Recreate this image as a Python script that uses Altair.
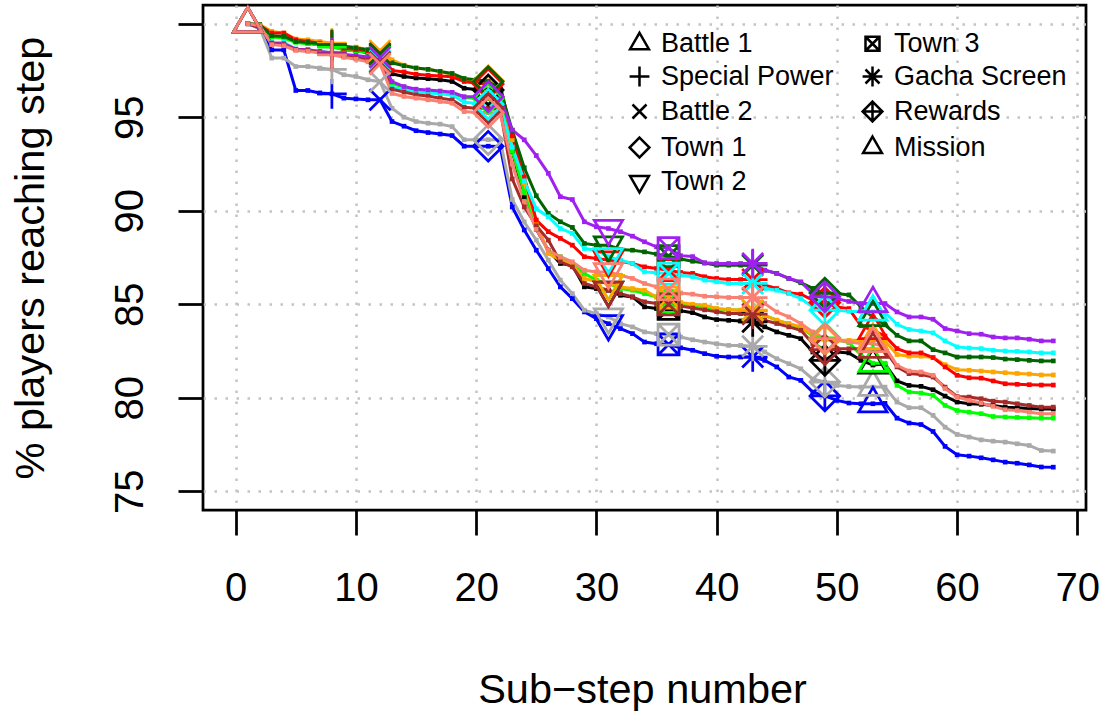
import altair as alt
import pandas as pd

steps = list(range(1, 69))

series_names = ["blue", "gray", "black", "green", "orange", "red",
                "darkgreen", "cyan", "purple", "brown", "salmon"]
series_colors = ["#0000FF", "#A9A9A9", "#000000", "#00FF00", "#FFA500", "#FF0000",
                 "#006400", "#00FFFF", "#A020F0", "#A52A2A", "#FA8072"]

blue = [100.0, 99.75, 98.6, 98.6, 96.43, 96.43, 96.3, 96.25, 96.02, 95.98,
        95.93, 95.93, 94.77, 94.52, 94.28, 94.18, 94.1, 94.02, 93.45, 93.45,
        93.45, 93.43, 90.2, 88.97, 87.89, 86.91, 85.93, 85.3, 84.59, 84.23,
        83.96, 83.7, 83.43, 82.98, 82.89, 82.85, 82.67, 82.54, 82.36, 82.22,
        82.18, 82.18, 82.18, 82.0, 81.65, 81.11, 80.93, 80.3, 80.1, 79.86,
        79.72, 79.68, 79.68, 79.7, 78.91, 78.65, 78.57, 78.2, 77.4, 76.95,
        76.88, 76.79, 76.68, 76.56, 76.5, 76.41, 76.3, 76.29]
gray = [100.0, 99.77, 98.16, 98.16, 97.71, 97.71, 97.63, 97.56, 97.27, 97.18,
        97.0, 96.9, 95.48, 95.0, 94.77, 94.68, 94.63, 94.5, 93.8, 93.8,
        93.8, 93.79, 90.6, 89.4, 88.43, 87.36, 86.29, 85.57, 84.68, 84.5,
        84.32, 83.96, 83.79, 83.52, 83.43, 83.38, 83.25, 83.1, 82.98, 82.89,
        82.8, 82.8, 82.75, 82.45, 82.09, 81.82, 81.55, 81.0, 80.84, 80.66,
        80.6, 80.57, 80.57, 80.57, 79.77, 79.47, 79.47, 79.06, 78.43, 78.04,
        77.9, 77.75, 77.68, 77.63, 77.54, 77.45, 77.18, 77.15]
black = [100.0, 99.86, 99.32, 99.32, 99.05, 98.96, 98.88, 98.79, 98.62, 98.56,
         98.45, 98.3, 97.32, 97.18, 97.1, 97.06, 97.0, 96.91, 96.55, 96.48,
         96.46, 96.4, 93.2, 90.7, 89.0, 87.89, 87.18, 87.09, 85.93, 85.84,
         85.75, 85.48, 85.39, 84.86, 84.77, 84.75, 84.65, 84.55, 84.32, 84.18,
         84.14, 84.11, 84.06, 83.79, 83.52, 83.34, 83.16, 82.45, 82.0, 82.45,
         82.4, 82.0, 81.75, 81.8, 80.9, 80.66, 80.61, 80.43, 80.09, 79.77,
         79.68, 79.65, 79.59, 79.5, 79.47, 79.43, 79.4, 79.4]
green = [100.0, 99.86, 99.29, 99.23, 99.0, 98.93, 98.88, 98.75, 98.6, 98.54,
         98.47, 98.25, 96.8, 96.6, 96.46, 96.4, 96.3, 96.28, 96.05, 96.0,
         96.0, 95.9, 93.2, 91.0, 89.2, 87.8, 87.54, 87.09, 86.64, 86.29,
         86.11, 85.84, 85.75, 85.57, 85.39, 85.13, 85.0, 84.95, 84.85, 84.75,
         84.7, 84.68, 84.66, 84.4, 84.15, 83.95, 83.75, 83.3, 83.2, 83.1,
         82.95, 82.3, 81.85, 81.85, 80.66, 80.31, 80.25, 80.13, 79.59, 79.32,
         79.23, 79.15, 79.0, 78.97, 78.95, 78.93, 78.91, 78.91]
orange = [100.0, 99.95, 99.59, 99.5, 99.18, 99.14, 99.05, 98.96, 98.8, 98.75,
          98.61, 98.55, 98.07, 97.78, 97.63, 97.56, 97.45, 97.27, 97.0, 96.98,
          96.95, 96.7, 93.8, 91.5, 89.4, 87.71, 87.36, 87.09, 86.38, 86.2,
          86.11, 85.93, 85.84, 85.75, 85.39, 85.35, 85.1, 85.0, 84.95, 84.77,
          84.72, 84.68, 84.68, 84.41, 84.14, 83.97, 83.79, 83.34, 83.1, 83.07,
          83.07, 83.07, 83.07, 83.05, 82.31, 82.22, 82.22, 82.15, 81.77, 81.5,
          81.47, 81.43, 81.38, 81.34, 81.3, 81.27, 81.22, 81.22]
red = [100.0, 99.9, 99.5, 99.5, 99.14, 99.05, 98.96, 98.88, 98.68, 98.62,
       98.55, 98.4, 97.5, 97.42, 97.3, 97.24, 97.2, 97.16, 96.91, 96.82,
       96.78, 96.7, 94.0, 91.8, 89.5, 88.88, 88.52, 88.16, 87.54, 87.45,
       87.36, 87.3, 87.18, 87.0, 86.91, 86.82, 86.7, 86.65, 86.47, 86.38,
       86.32, 86.32, 86.32, 86.02, 85.84, 85.61, 85.54, 85.22, 85.1, 84.85,
       84.77, 83.85, 83.6, 83.3, 82.63, 82.4, 82.4, 82.15, 81.65, 81.2,
       81.07, 81.05, 80.9, 80.75, 80.72, 80.7, 80.68, 80.68]
darkgreen = [100.0, 99.95, 99.36, 99.32, 99.05, 99.0, 98.93, 98.88, 98.79, 98.7,
             98.61, 98.4, 97.91, 97.75, 97.63, 97.56, 97.45, 97.34, 97.07, 97.0,
             96.91, 96.5, 94.3, 92.3, 90.8, 89.86, 89.41, 89.11, 88.25, 88.16,
             88.16, 87.93, 87.89, 87.8, 87.68, 87.57, 87.42, 87.3, 87.2, 87.09,
             87.09, 87.09, 87.09, 86.82, 86.65, 86.38, 86.15, 85.85, 85.6, 85.57,
             85.5, 84.86, 84.3, 83.9, 83.34, 83.04, 83.04, 82.57, 82.4, 82.18,
             82.18, 82.18, 82.15, 82.07, 82.04, 82.0, 81.97, 81.97]
cyan = [100.0, 99.8, 99.0, 99.0, 98.64, 98.61, 98.52, 98.43, 98.25, 98.16,
        98.09, 98.02, 96.6, 96.46, 96.36, 96.3, 96.25, 96.18, 95.8, 95.75,
        95.7, 95.55, 93.4, 91.6, 90.1, 89.68, 89.05, 88.79, 87.98, 87.89,
        87.54, 87.36, 87.18, 86.73, 86.68, 86.64, 86.55, 86.47, 86.29, 86.2,
        86.11, 86.11, 86.11, 85.84, 85.75, 85.57, 85.3, 84.86, 84.68, 84.68,
        84.62, 84.6, 84.59, 84.55, 83.93, 83.65, 83.57, 83.47, 83.04, 82.72,
        82.66, 82.63, 82.54, 82.5, 82.48, 82.45, 82.4, 82.4]
purple = [100.0, 99.8, 98.96, 98.93, 98.64, 98.61, 98.52, 98.45, 98.36, 98.3,
          98.22, 98.2, 96.9, 96.64, 96.5, 96.46, 96.4, 96.33, 96.1, 96.1,
          96.1, 96.02, 94.32, 93.79, 92.95, 92.0, 90.75, 90.6, 89.41, 89.14,
          89.05, 88.88, 88.64, 88.34, 88.07, 88.0, 87.6, 87.55, 87.22, 87.18,
          87.18, 87.18, 87.18, 86.82, 86.65, 86.38, 86.2, 85.57, 85.4, 85.3,
          85.15, 85.04, 85.04, 85.04, 84.59, 84.32, 84.32, 84.2, 83.7, 83.57,
          83.43, 83.4, 83.25, 83.2, 83.2, 83.13, 83.04, 83.04]
brown = [100.0, 99.8, 98.96, 98.88, 98.61, 98.57, 98.46, 98.39, 98.25, 98.18,
         98.07, 97.94, 96.5, 96.35, 96.2, 96.13, 96.02, 95.93, 95.53, 95.48,
         95.48, 95.4, 91.7, 90.2, 89.2, 88.43, 87.27, 87.0, 86.11, 85.93,
         85.75, 85.57, 85.39, 85.13, 85.04, 85.0, 84.9, 84.8, 84.7, 84.6,
         84.5, 84.5, 84.47, 84.14, 83.97, 83.79, 83.61, 82.9, 82.57, 82.62,
         82.62, 82.62, 82.6, 82.54, 81.65, 81.29, 81.24, 81.11, 80.57, 80.07,
         80.04, 79.95, 79.82, 79.77, 79.68, 79.59, 79.5, 79.5]
salmon = [100.0, 99.9, 98.88, 98.82, 98.57, 98.52, 98.43, 98.34, 98.2, 98.1,
          97.96, 97.85, 96.27, 96.11, 96.02, 95.93, 95.84, 95.75, 95.3, 95.25,
          95.25, 95.2, 92.5, 90.5, 89.0, 87.89, 87.54, 87.27, 86.82, 86.73,
          86.73, 86.55, 86.38, 86.11, 85.93, 85.8, 85.6, 85.54, 85.43, 85.4,
          85.36, 85.36, 85.36, 85.04, 84.59, 84.32, 83.97, 83.52, 83.16, 83.07,
          82.98, 82.9, 82.9, 82.72, 81.73, 81.43, 81.38, 81.2, 80.49, 80.04,
          79.86, 79.72, 79.54, 79.36, 79.32, 79.23, 79.15, 79.15]

series_values = [blue, gray, black, green, orange, red, darkgreen, cyan, purple, brown, salmon]

milestone_steps = [1, 8, 12, 21, 31, 36, 43, 49, 53]
milestone_names = ["Battle 1", "Special Power", "Battle 2", "Town 1", "Town 2",
                   "Town 3", "Gacha Screen", "Rewards", "Mission"]

# R-like plotting symbols as SVG paths (unit = symbol half-size)
TRI_UP = "M0,-1.555L1.347,0.778L-1.347,0.778Z"
PLUS = "M-1.414,0L1.414,0M0,-1.414L0,1.414"
CROSS = "M-1,-1L1,1M-1,1L1,-1"
DIAMOND = "M0,-1.414L1.414,0L0,1.414L-1.414,0Z"
TRI_DOWN = "M0,1.555L1.347,-0.778L-1.347,-0.778Z"
SQ_X = "M-1,-1L1,-1L1,1L-1,1ZM-1,-1L1,1M-1,1L1,-1"
ASTER = "M-1,-1L1,1M-1,1L1,-1M-1.414,0L1.414,0M0,-1.414L0,1.414"
DIA_PLUS = "M0,-1.414L1.414,0L0,1.414L-1.414,0ZM-1.414,0L1.414,0M0,-1.414L0,1.414"
shape_of = {"Battle 1": TRI_UP, "Special Power": PLUS, "Battle 2": CROSS,
            "Town 1": DIAMOND, "Town 2": TRI_DOWN, "Town 3": SQ_X,
            "Gacha Screen": ASTER, "Rewards": DIA_PLUS, "Mission": TRI_UP}

rows = []
for name, vals in zip(series_names, series_values):
    for s, v in zip(steps, vals):
        rows.append({"series": name, "step": s, "pct": v})
df = pd.DataFrame(rows)

mrows = []
for name, vals in zip(series_names, series_values):
    for st, mn in zip(milestone_steps, milestone_names):
        mrows.append({"series": name, "step": st, "pct": vals[st - 1], "milestone": mn})
mdf = pd.DataFrame(mrows)

FONT = "Liberation Sans"
xs = alt.Scale(domain=[-2.72, 70.72], nice=False, zero=False)
ys = alt.Scale(domain=[74, 101], nice=False, zero=False)
cs = alt.Scale(domain=series_names, range=series_colors)

xaxis = alt.Axis(values=list(range(0, 71, 10)), format="d", title="Sub−step number",
                 grid=True, gridColor="#C4C4C4", gridDash=[2.5, 8.5], gridWidth=2.5,
                 domain=False, ticks=True, tickSize=25, tickWidth=2.75, tickColor="black",
                 labelFont=FONT, labelFontSize=40, labelColor="black", labelPadding=65,
                 labelBaseline="alphabetic", labelFlush=False, labelOverlap=False,
                 titleFont=FONT, titleFontSize=41.5, titleFontWeight="normal", titleColor="black",
                 titleX=439, titleY=192, titleBaseline="alphabetic", titleAlign="center")
yaxis = alt.Axis(values=[75, 80, 85, 90, 95, 100], format="d",
                 labelExpr="datum.value == 100 ? '' : datum.label",
                 title="% players reaching step",
                 grid=True, gridColor="#C4C4C4", gridDash=[2.5, 8.5], gridWidth=2.5,
                 domain=False, ticks=True, tickSize=25, tickWidth=2.75, tickColor="black",
                 labelFont=FONT, labelFontSize=40, labelColor="black", labelPadding=36,
                 labelAngle=270, labelAlign="center", labelBaseline="alphabetic",
                 labelFlush=False, labelOverlap=False,
                 titleFont=FONT, titleFontSize=41.5, titleFontWeight="normal", titleColor="black",
                 titleAngle=270, titleX=-160, titleY=252.5, titleAlign="center",
                 titleBaseline="alphabetic")

X = alt.X("step:Q", scale=xs, axis=xaxis)
Y = alt.Y("pct:Q", scale=ys, axis=yaxis)
C = alt.Color("series:N", scale=cs, legend=None)

lines = alt.Chart(df).mark_line(strokeWidth=3).encode(x=X, y=Y, color=C)
points = alt.Chart(df).mark_square(size=22, opacity=1).encode(x=X, y=Y, color=C)
markers = alt.Chart(mdf).mark_point(filled=False, size=441, strokeWidth=2.75, opacity=1).encode(
    x=X, y=Y, color=C,
    shape=alt.Shape("milestone:N",
                    scale=alt.Scale(domain=milestone_names,
                                    range=[shape_of[m] for m in milestone_names]),
                    legend=alt.Legend(title=None, orient="none", legendX=423, legendY=25,
                                      columns=2, symbolSize=196, symbolStrokeWidth=2.5,
                                      symbolStrokeColor="black", symbolFillColor="transparent",
                                      symbolOpacity=1, labelFont=FONT, labelFontSize=27,
                                      labelColor="black", labelOffset=8, rowPadding=4,
                                      columnPadding=23, padding=0, labelLimit=0)))

chart = alt.layer(lines, points, markers).properties(
    width=883, height=505,
    padding={"left": 203, "top": 5, "right": 17, "bottom": 202},
    autosize=alt.AutoSizeParams(type="none"),
    background="white",
).configure(
    font=FONT,
    view=alt.ViewConfig(stroke="black", strokeWidth=2.75),
)

chart.save("out.html", embed_options={"renderer": "svg", "actions": False})
